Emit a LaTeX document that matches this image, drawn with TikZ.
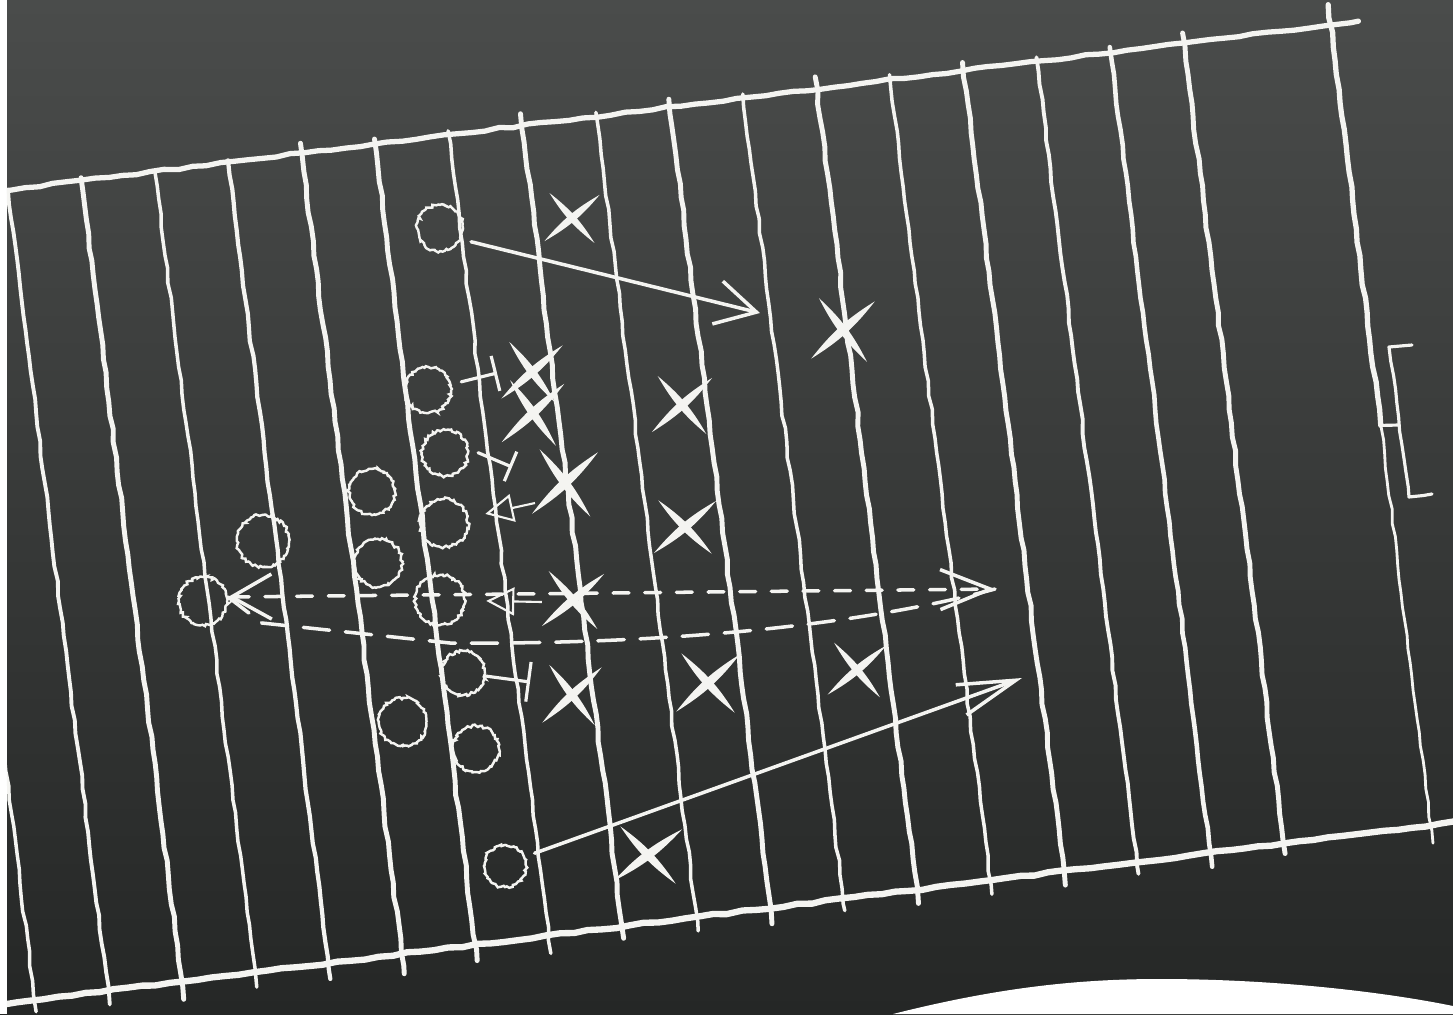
\documentclass[tikz,border=0pt]{standalone}
\usetikzlibrary{arrows.meta,decorations.pathmorphing}
\definecolor{cBoardT}{HTML}{4A4C4B}
\definecolor{cBoardM}{HTML}{3A3C3B}
\definecolor{cBoardB}{HTML}{252726}
\definecolor{cChalk}{HTML}{F4F4F1}
\tikzset{
  chalk/.style={draw=cChalk, line cap=round, line join=round, decorate, decoration={random steps, segment length=4pt, amplitude=0.3pt}},
  yard/.style={chalk, line width=#1},
  sline/.style={chalk, line width=#1},
  ring/.style={circle, draw=cChalk, inner sep=0pt, minimum size=#1, line width=0.7pt, decorate, decoration={random steps, segment length=0.6pt, amplitude=0.4pt}},
  route/.style={draw=cChalk, line width=1pt, line cap=round, -{Straight Barb[length=4mm, width=4.4mm]}},
  pass/.style={draw=cChalk, line width=1pt, line cap=round, dash pattern=on 4.5pt off 4.5pt},
  block/.style={draw=cChalk, line width=0.9pt, line cap=round, -{Bar[width=#1]}},
  hint/.style={draw=cChalk, line width=0.6pt, -{Triangle[open, length=2.8mm, width=2.8mm]}},
  pics/xmk/.style 2 args={code={
    \fill[cChalk, rotate=#1] (-45,0) to[bend left=10] (45,0) to[bend left=10] (-45,0) -- cycle;
    \fill[cChalk, rotate=#2] (-42,0) to[bend left=10] (42,0) to[bend left=10] (-42,0) -- cycle;
  }},
}

\begin{document}
\begin{tikzpicture}[x=0.01cm, y=-0.01cm]
\useasboundingbox (0,0) rectangle (1453,1014);
\shade[top color=cBoardT, middle color=cBoardM, bottom color=cBoardB] (0,0) rectangle (1453,1014);
\fill[white] (0,0) rectangle (7,1014);
\fill[white] (893,1014) .. controls (1000,987) and (1080,979) .. (1160,979) .. controls (1280,979) and (1390,993) .. (1453,1006) -- (1453,1014) -- cycle;
\pgfmathsetseed{42}
% field
\begin{scope}
\clip (7,0) rectangle (1453,1014);
\begin{scope}[shift={(7,190)}, rotate=7.125]
\draw[sline=1.5pt] (-10,0) -- (1362,0);
\draw[sline=1.8pt] (-120,807) -- (1480,807);
\draw[yard=1pt] (-73,0) -- (-73,819);
\draw[yard=1.1pt] (1,0) -- (1,821);
\draw[yard=1.4pt] (75,-3) -- (75,825);
\draw[yard=1pt] (149,0) -- (149,822);
\draw[yard=1.2pt] (223,-2) -- (223,823);
\draw[yard=1.4pt] (297,-10) -- (297,827);
\draw[yard=1.4pt] (371,-5) -- (371,823);
\draw[yard=1pt] (445,-4) -- (445,825);
\draw[yard=1.4pt] (519,-12) -- (519,819);
\draw[yard=1pt] (594,-4) -- (594,821);
\draw[yard=1.4pt] (668,-8) -- (668,823);
\draw[yard=1pt] (742,-4) -- (742,819);
\draw[yard=1.4pt] (816,-12) -- (816,821);
\draw[yard=1pt] (890,-5) -- (890,821);
\draw[yard=1.4pt] (964,-8) -- (964,821);
\draw[yard=1.1pt] (1038,-4) -- (1038,819);
\draw[yard=1.3pt] (1112,-5) -- (1112,821);
\draw[yard=1.4pt] (1186,-10) -- (1186,817);
% end line
\draw[yard=1.5pt] (1334,-20) -- (1334,404);
\draw[yard=0.8pt] (1334,404) -- (1334,825);
\coordinate (gl) at (1334,404);
\end{scope}
\end{scope}
% goal post
\coordinate (gp) at (1399,425);
\draw[chalk, line width=0.9pt] (1412,345) -- (1389,347) -- (1409,497) -- (1432,494);
\draw[chalk, line width=0.9pt] (gl) -- (gp);
% offense
\node[ring=0.46cm] (o1) at (440,228) {};
\node[ring=0.46cm] (o2) at (428,390) {};
\node[ring=0.46cm] (o3) at (445,453) {};
\node[ring=0.46cm] (o4) at (372,492) {};
\node[ring=0.48cm] (o5) at (444,523) {};
\node[ring=0.52cm] (o6) at (263,541) {};
\node[ring=0.48cm] (o7) at (378,563) {};
\node[ring=0.50cm] (o8) at (440,600) {};
\node[ring=0.48cm] (o9) at (203,601) {};
\node[ring=0.44cm] (o10) at (463,673) {};
\node[ring=0.48cm] (o11) at (403,722) {};
\node[ring=0.46cm] (o12) at (476,749) {};
\node[ring=0.42cm] (o13) at (505,866) {};
% defense
\path (572,218) coordinate (x1) pic[scale=0.8] {xmk={40}{-48}};
\path (843,330) coordinate (x2) pic[scale=0.95] {xmk={42}{-53}};
\path (532,372) coordinate (x3) pic[scale=0.9] {xmk={41}{-53}};
\path (533,413) coordinate (x4) pic[scale=0.95] {xmk={43}{-55}};
\path (565,483) coordinate (x5) pic {xmk={43}{-53}};
\path (682,405) coordinate (x6) pic[scale=0.9] {xmk={42}{-50}};
\path (685,527) coordinate (x7) pic[scale=0.9] {xmk={40}{-45}};
\path (573,600) coordinate (x8) pic[scale=0.9] {xmk={40}{-50}};
\path (572,695) coordinate (x9) pic[scale=0.9] {xmk={43}{-53}};
\path (708,683) coordinate (x10) pic[scale=0.95] {xmk={42}{-48}};
\path (857,670) coordinate (x11) pic[scale=0.85] {xmk={40}{-50}};
\path (648,855) coordinate (x12) pic[scale=0.95] {xmk={37}{-46}};
% routes
\coordinate (t1) at (760,313);
\coordinate (t13) at (1022,678);
\coordinate (d1) at (228,597);
\coordinate (d2) at (995,589);
\coordinate (l1) at (262,623);
\coordinate (l2) at (450,643);
\coordinate (l3) at (720,645);
\coordinate (l4) at (900,615);
\coordinate (b2) at (497,373);
\coordinate (b3) at (512,467);
\coordinate (b10) at (530,682);
\draw[route, shorten <=0.1cm] (o1.-28) -- (t1);
\draw[route, -{Straight Barb[length=5.8mm, width=3.2mm]}, shorten <=0.1cm] (o13.25) -- (t13);
\draw[pass, {Straight Barb[length=4mm, width=4.5mm]}-{Straight Barb[length=5mm, width=4mm]}] (d1) -- (d2);
\draw[pass, dash pattern=on 7.5pt off 4.5pt] (d1) -- (l1) -- (l2) .. controls (l3) and (l4) .. (d2);
\draw[block=3.6mm, shorten <=0.1cm] (o2) -- (b2);
\draw[block=3.2mm, shorten <=0.1cm] (o3.10) -- (b3);
\draw[block=4mm] (o10) -- (b10);
\draw[hint, shorten >=0.17cm] ([xshift=-0.3cm, yshift=-0.2cm]x5) -- (o5);
\draw[hint, shorten >=0.2cm] ([xshift=-0.31cm, yshift=-0.02cm]x8) -- (o8);
\end{tikzpicture}
\end{document}
